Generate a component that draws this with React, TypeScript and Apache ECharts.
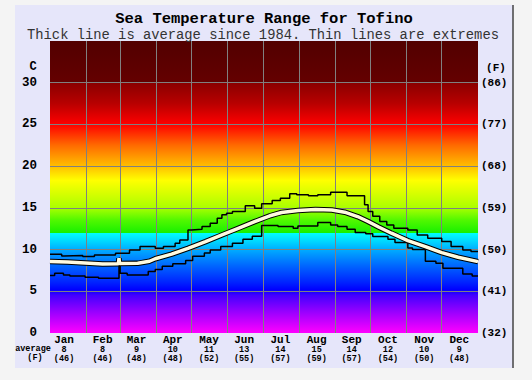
import React, { useEffect, useRef } from "react";
import * as echarts from "echarts";

const monthNames = ["Jan", "Feb", "Mar", "Apr", "May", "Jun", "Jul", "Aug", "Sep", "Oct", "Nov", "Dec"];
const monthStartDays = [0, 31, 60, 91, 121, 152, 182, 213, 244, 274, 305, 335, 366];
const labelDays = [12, 45, 74, 105, 136, 166, 197, 228, 258, 289, 320, 350];
const avgC = [8, 8, 9, 10, 11, 13, 14, 15, 14, 12, 10, 9];
const avgF = [46, 46, 48, 48, 52, 55, 57, 59, 57, 54, 50, 48];

// [day of year, °C]
const maxLine: [number, number][] = [
  [0, 9.44], [10, 9.24], [12, 9.3], [28, 9.16], [38, 9.36], [56, 9.56], [68, 9.96], [77, 10.36],
  [90, 10.16], [97, 10.36], [107, 10.76], [111, 11.16], [118, 12.36], [121, 12.44], [130, 12.76],
  [137, 13.16], [143, 13.76], [147, 14.16], [151, 14.36], [156, 14.56], [167, 15.24], [175, 14.96],
  [181, 15.48], [190, 15.88], [197, 16.16], [205, 16.68], [211, 16.56], [221, 16.44], [229, 16.56],
  [240, 16.88], [254, 16.44], [269, 15.36], [272, 14.56], [276, 14.0], [282, 13.36], [288, 12.96],
  [294, 12.56], [306, 12.36], [314, 11.76], [323, 11.36], [335, 10.96], [343, 10.36], [353, 9.96],
  [360, 9.76], [366, 9.76],
];

const minLine: [number, number][] = [
  [0, 6.88], [4, 7.16], [11.5, 6.96], [17, 6.84], [30, 6.68], [41.5, 6.56], [59, 8.96], [60, 7.16],
  [66, 6.96], [84, 7.36], [90, 7.6], [96, 8.0], [105, 8.3], [116, 8.7], [122, 9.2], [132, 9.6],
  [137, 9.96], [146, 10.36], [156, 10.76], [165, 11.24], [173, 11.6], [181, 12.9], [195, 12.76],
  [208, 12.56], [212, 12.84], [229, 13.24], [240, 12.96], [246, 12.76], [254, 12.44], [261, 12.04],
  [270, 11.9], [276, 11.56], [289, 11.24], [295, 10.84], [306, 10.2], [310, 10.0], [321, 8.6],
  [330, 8.36], [336, 7.76], [353, 7.08], [361, 6.84], [366, 6.84],
];

const avgLine: [number, number][] = [
  [0, 8.56], [15, 8.5], [30, 8.4], [45, 8.28], [58.5, 8.3], [59, 8.96], [59.5, 8.32], [75, 8.35],
  [85, 8.6], [90, 8.9], [104, 9.45], [118, 10.15], [133, 10.95], [147, 11.75], [161, 12.55],
  [175, 13.35], [188, 14.05], [198, 14.45], [212, 14.68], [227, 14.8], [241, 14.75], [252, 14.48],
  [263, 13.96], [272, 13.36], [281, 12.7], [292, 11.96], [306, 11.08], [321, 10.36], [335, 9.64],
  [349, 9.08], [366, 8.56],
];

const FONT = "'Liberation Mono', 'Courier New', monospace";

function stop(v: number, color: string) {
  return { offset: (35 - v) / 35, color };
}

export default function App() {
  const ref = useRef<HTMLDivElement>(null);
  useEffect(() => {
    if (!ref.current) return;
    const chart = echarts.init(ref.current, null, { renderer: "svg" });
    const bg = new echarts.graphic.LinearGradient(0, 0, 0, 1, [
      stop(35, "#520000"),
      stop(30.01, "#640000"),
      stop(29.99, "#8a0000"),
      stop(27.5, "#b80000"),
      stop(25, "#ff0000"),
      stop(22.5, "#ff6a00"),
      stop(20, "#ffbe00"),
      stop(18.3, "#ffff00"),
      stop(15, "#aaff00"),
      stop(13.5, "#50f800"),
      stop(12.01, "#18f000"),
      stop(11.99, "#00ffff"),
      stop(11, "#00d8ff"),
      stop(10, "#00acff"),
      stop(8, "#0064ff"),
      stop(6, "#0020ff"),
      stop(5.2, "#0000ff"),
      stop(4.5, "#4400ff"),
      stop(2.5, "#9a00ff"),
      stop(0, "#ff00ff"),
    ]);
    const option: any = {
      animation: false,
      backgroundColor: "#f4f4f4",
      graphic: [
        { type: "rect", z: -10, shape: { x: 15, y: 5, width: 498, height: 363 }, style: { fill: "#e6e6fa" } },
        { type: "line", z: -9, shape: { x1: 513, y1: 5, x2: 513, y2: 368 }, style: { stroke: "#444", lineWidth: 1.5 } },
        { type: "text", x: 264, y: 19, style: { text: "Sea Temperature Range for Tofino", font: `bold 15.5px ${FONT}`, fill: "#000", align: "center", verticalAlign: "middle" } },
        { type: "text", x: 263, y: 35, style: { text: "Thick line is average since 1984. Thin lines are extremes", font: `13.8px ${FONT}`, fill: "#333", align: "center", verticalAlign: "middle" } },
        { type: "text", x: 33, y: 67, style: { text: "C", font: `bold 12px ${FONT}`, fill: "#000", align: "center", verticalAlign: "middle" } },
        { type: "text", x: 496, y: 68, style: { text: "(F)", font: `bold 11px ${FONT}`, fill: "#000", align: "center", verticalAlign: "middle" } },
        { type: "text", x: 33, y: 349, style: { text: "average", font: `bold 8.5px ${FONT}`, fill: "#000", align: "center", verticalAlign: "middle" } },
        { type: "text", x: 35, y: 358, style: { text: "(F)", font: `bold 8.5px ${FONT}`, fill: "#000", align: "center", verticalAlign: "middle" } },
      ],
      grid: {
        left: 50, top: 41, width: 428, height: 292, show: true, borderWidth: 0, backgroundColor: bg,
      },
      xAxis: {
        type: "value", min: 0, max: 366,
        axisLine: { show: false },
        axisTick: { show: false, customValues: monthStartDays },
        splitLine: { show: true, showMinLine: false, showMaxLine: false, lineStyle: { color: "#808080", width: 1 } },
        axisLabel: {
          customValues: labelDays,
          margin: 2,
          formatter: (v: number) => {
            const i = labelDays.indexOf(v);
            if (i < 0) return "";
            return `{m|${monthNames[i]}}\n{n|${avgC[i]}}\n{n|(${avgF[i]})}`;
          },
          rich: {
            m: { fontFamily: FONT, fontWeight: "bold", fontSize: 11, lineHeight: 10, color: "#000" },
            n: { fontFamily: FONT, fontWeight: "bold", fontSize: 8.5, lineHeight: 9, color: "#000" },
          },
        },
      },
      yAxis: [
        {
          type: "value", min: 0, max: 35, interval: 5,
          axisLine: { show: false }, axisTick: { show: false },
          splitLine: { show: true, showMinLine: false, showMaxLine: false, lineStyle: { color: "#808080", width: 1 } },
          axisLabel: {
            margin: 13, color: "#000", fontFamily: FONT, fontWeight: "bold", fontSize: 12.5,
            formatter: (v: number) => (v >= 35 ? "" : String(v)),
          },
        },
        {
          type: "value", min: 0, max: 35, interval: 5, position: "right",
          axisLine: { show: false }, axisTick: { show: false }, splitLine: { show: false },
          axisLabel: {
            margin: 3, color: "#000", fontFamily: FONT, fontWeight: "bold", fontSize: 11,
            formatter: (v: number) => (v >= 35 ? "" : `(${Math.round((v * 9) / 5 + 32)})`),
          },
        },
      ],
      series: [
        { type: "line", data: maxLine, step: "end", symbol: "none", lineStyle: { color: "#000", width: 1.5 }, z: 3 },
        { type: "line", data: minLine, step: "end", symbol: "none", lineStyle: { color: "#000", width: 1.5 }, z: 3 },
        { type: "line", data: avgLine, symbol: "none", lineStyle: { color: "#000", width: 5.5 }, z: 4 },
        { type: "line", data: avgLine, symbol: "none", lineStyle: { color: "#fffbe0", width: 3.5 }, z: 5 },
      ],
    };
    chart.setOption(option);
    return () => chart.dispose();
  }, []);
  return (
    <div style={{ position: "fixed", left: 0, top: 0, width: 532, height: 380 }}>
      <div ref={ref} style={{ width: 532, height: 380 }} />
    </div>
  );
}
